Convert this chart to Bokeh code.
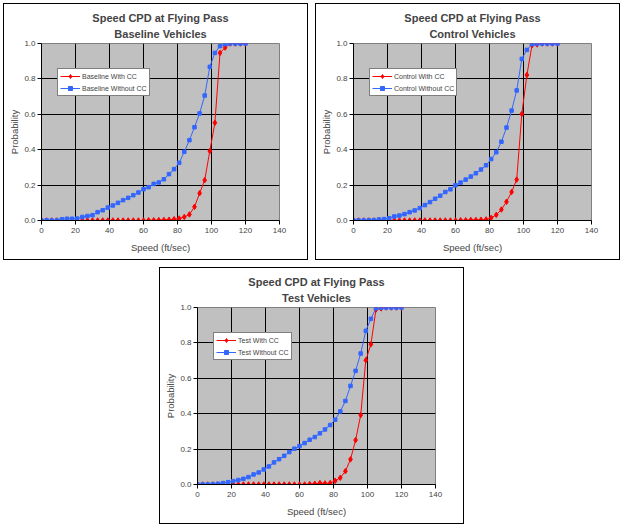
from bokeh.plotting import figure
from bokeh.models import Range1d, FixedTicker, PrintfTickFormatter, Title
from bokeh.layouts import column, row
from bokeh.embed import file_html
from bokeh.resources import INLINE

# ---------------- data ----------------
speed = [0, 3, 6, 9, 12, 15, 18, 21, 24, 27, 30, 33, 36, 39, 42, 45, 48, 51, 54, 57, 60,
         63, 66, 69, 72, 75, 78, 81, 84, 87, 90, 93, 96, 99, 102, 105, 108, 111, 114, 117, 120]

baseline_with_cc = [0, 0, 0, 0, 0, 0, 0, 0, 0, 0, 0, 0, 0, 0, 0, 0, 0, 0, 0, 0, 0,
                    0.001, 0.001, 0.002, 0.003, 0.004, 0.007, 0.011, 0.02, 0.034, 0.077,
                    0.154, 0.228, 0.392, 0.552, 0.947, 0.977, 1.0, 1.0, 1.0, 1.0]
baseline_without_cc = [0, 0, 0, 0, 0.007, 0.01, 0.01, 0.011, 0.02, 0.025, 0.03, 0.047, 0.058,
                       0.073, 0.085, 0.10, 0.115, 0.128, 0.143, 0.158, 0.177, 0.188, 0.207,
                       0.215, 0.233, 0.262, 0.29, 0.326, 0.388, 0.454, 0.527, 0.605, 0.706,
                       0.868, 0.947, 0.985, 0.996, 1.0, 1.0, 1.0, 1.0]

control_with_cc = [0, 0, 0, 0, 0, 0, 0, 0, 0, 0, 0, 0, 0, 0, 0, 0, 0, 0, 0, 0, 0,
                   0.001, 0.001, 0.003, 0.003, 0.004, 0.006, 0.015, 0.032, 0.062, 0.106,
                   0.161, 0.231, 0.602, 0.822, 0.99, 0.995, 1.0, 1.0, 1.0, 1.0]
control_without_cc = [0, 0, 0, 0.002, 0.002, 0.006, 0.008, 0.013, 0.023, 0.028, 0.036, 0.047,
                      0.057, 0.07, 0.087, 0.104, 0.123, 0.14, 0.161, 0.176, 0.199, 0.214,
                      0.231, 0.248, 0.267, 0.288, 0.312, 0.347, 0.386, 0.445, 0.525, 0.621,
                      0.735, 0.913, 0.964, 0.996, 0.998, 1.0, 1.0, 1.0, 1.0]

test_with_cc = [0, 0, 0, 0, 0, 0, 0, 0, 0, 0, 0, 0, 0, 0, 0, 0, 0, 0, 0, 0, 0, 0,
                0.002, 0.004, 0.008, 0.006, 0.008, 0.021, 0.038, 0.075, 0.142, 0.251,
                0.392, 0.702, 0.792, 0.989, 0.995, 1.0, 1.0, 1.0, 1.0]
test_without_cc = [0, 0, 0, 0.002, 0.004, 0.008, 0.013, 0.019, 0.025, 0.032, 0.042, 0.057,
                   0.068, 0.085, 0.102, 0.125, 0.143, 0.162, 0.183, 0.202, 0.217, 0.234,
                   0.253, 0.268, 0.289, 0.311, 0.336, 0.366, 0.413, 0.472, 0.557, 0.642,
                   0.74, 0.868, 0.936, 0.996, 0.998, 1.0, 1.0, 1.0, 1.0]

x_ticks = [0, 20, 40, 60, 80, 100, 120, 140]
y_ticks = [0.0, 0.2, 0.4, 0.6, 0.8, 1.0]

FONT = "Liberation Sans"
RED = "#FF0000"
BLUE = "#3366FF"


def make_chart(subtitle, name, with_cc, without_cc, margin):
    p = figure(width=305, height=257, output_backend="svg", toolbar_location=None,
               x_range=Range1d(0, 140), y_range=Range1d(0, 1),
               min_border_left=37, min_border_right=30, min_border_top=39, min_border_bottom=41)
    p.title = None
    p.styles = {"border": "1px solid black", "box-sizing": "border-box", "overflow": "hidden"}
    p.margin = margin
    p.background_fill_color = "#C0C0C0"
    p.border_fill_color = "white"
    p.outline_line_color = "#808080"

    t2 = Title(text=subtitle, align="center", text_font=FONT, text_font_size="11px",
               text_font_style="bold", standoff=7, offset=-4)
    t1 = Title(text="Speed CPD at Flying Pass", align="center", text_font=FONT,
               text_font_size="11px", text_font_style="bold", standoff=-3, offset=-4)
    p.add_layout(t2, "above")
    p.add_layout(t1, "above")

    for ax in (p.xaxis[0], p.yaxis[0]):
        ax.axis_line_color = "black"
        ax.major_tick_line_color = "black"
        ax.major_tick_out = 4
        ax.major_tick_in = 0
        ax.minor_tick_line_color = None
        ax.major_label_text_font = FONT
        ax.major_label_text_font_size = "8px"
        ax.axis_label_text_font = FONT
        ax.axis_label_text_font_size = "9.5px"
        ax.axis_label_text_font_style = "normal"
    p.xaxis.ticker = FixedTicker(ticks=x_ticks)
    p.yaxis.ticker = FixedTicker(ticks=y_ticks)
    p.yaxis.formatter = PrintfTickFormatter(format="%.1f")
    p.xaxis.axis_label = "Speed (ft/sec)"
    p.yaxis.axis_label = "Probability"
    p.xaxis.major_label_standoff = 3
    p.yaxis.major_label_standoff = 2
    p.xaxis.axis_label_standoff = 6
    p.yaxis.axis_label_standoff = 1

    p.xgrid.ticker = FixedTicker(ticks=x_ticks)
    p.ygrid.ticker = FixedTicker(ticks=y_ticks)
    p.grid.grid_line_color = "black"
    p.grid.grid_line_width = 1

    lab1 = f"{name} With CC"
    lab2 = f"{name} Without CC"
    p.line(speed, with_cc, color=RED, line_width=1, legend_label=lab1)
    p.scatter(speed, with_cc, marker="diamond", size=5.5, color=RED, legend_label=lab1)
    p.line(speed, without_cc, color=BLUE, line_width=1, legend_label=lab2)
    p.scatter(speed, without_cc, marker="square", size=3.5, color=BLUE, legend_label=lab2)

    lg = p.legend[0]
    lg.location = (16, 124)
    lg.border_line_color = "black"
    lg.border_line_width = 1
    lg.background_fill_color = "white"
    lg.background_fill_alpha = 1
    lg.label_text_font = FONT
    lg.label_text_font_size = "7px"
    lg.glyph_width = 20
    lg.glyph_height = 10
    lg.label_height = 10
    lg.padding = 2
    lg.spacing = 2
    lg.margin = 0
    lg.label_standoff = 2
    return p


p1 = make_chart("Baseline Vehicles", "Baseline", baseline_with_cc, baseline_without_cc, (3, 0, 0, 3))
p2 = make_chart("Control Vehicles", "Control", control_with_cc, control_without_cc, (3, 0, 0, 7))
p3 = make_chart("Test Vehicles", "Test", test_with_cc, test_without_cc, (7, 0, 0, 159))

layout = column(row(p1, p2), p3)

open("out.html", "w").write(file_html(layout, INLINE))
